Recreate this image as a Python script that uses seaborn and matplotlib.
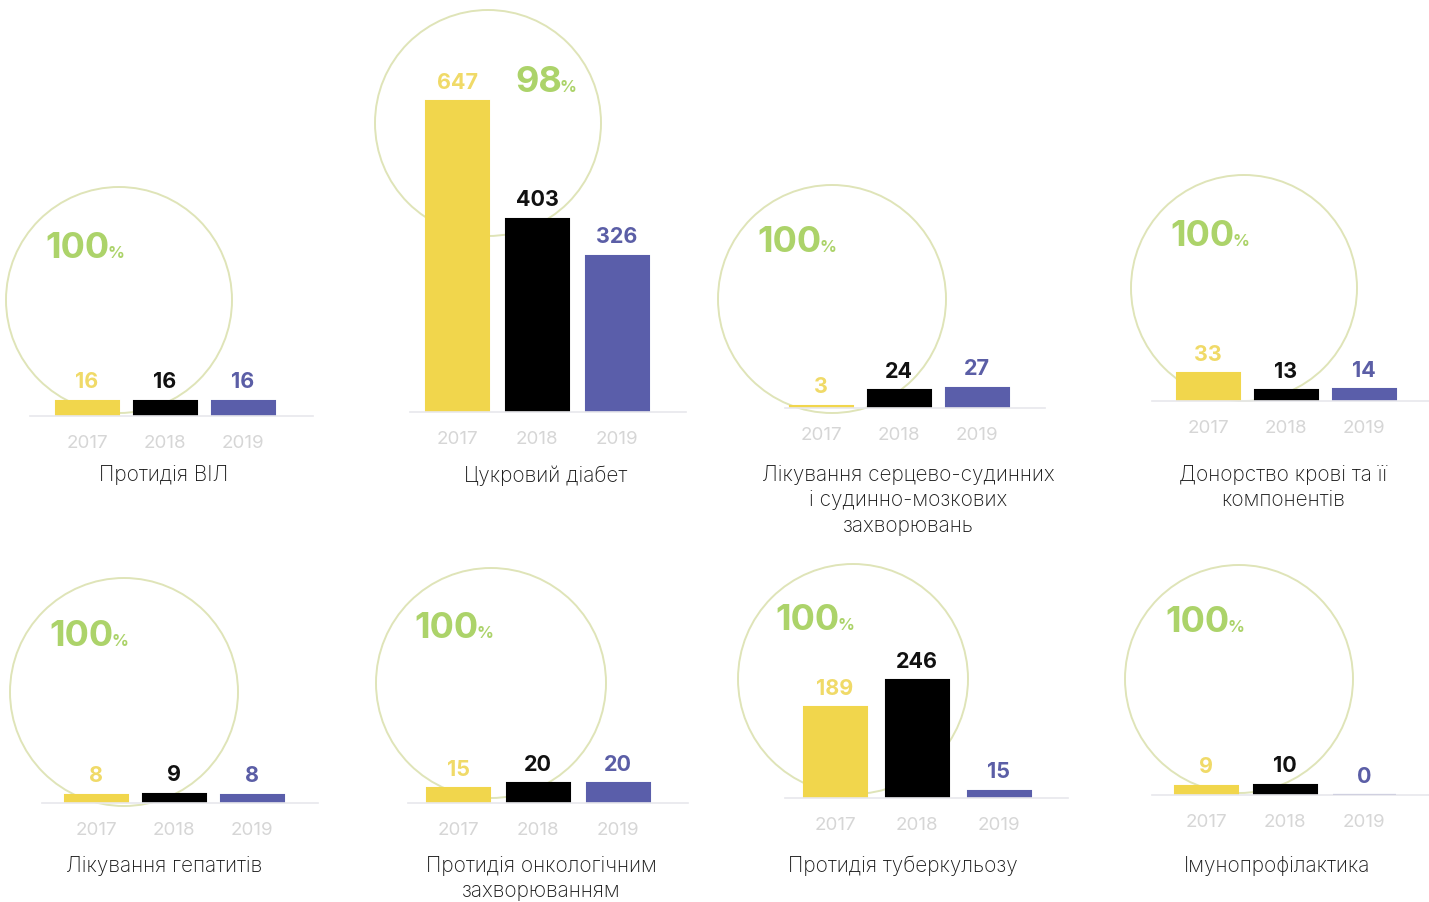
import matplotlib
matplotlib.use("Agg")
import matplotlib.pyplot as plt
from matplotlib.patches import Circle
import pandas as pd
import seaborn as sns

# ---- data -----------------------------------------------------------------
years = ["2017", "2018", "2019"]

titles = [
    "Протидія ВІЛ",
    "Цукровий діабет",
    "Лікування серцево-судинних\nі судинно-мозкових\nзахворювань",
    "Донорство крові та її\nкомпонентів",
    "Лікування гепатитів",
    "Протидія онкологічним\nзахворюванням",
    "Протидія туберкульозу",
    "Імунопрофілактика",
]

hiv = [16, 16, 16]
diabetes = [647, 403, 326]
cardio = [3, 24, 27]
blood = [33, 13, 14]
hepatitis = [8, 9, 8]
oncology = [15, 20, 20]
tuberculosis = [189, 246, 15]
immuno = [9, 10, 0]

shares = [100, 98, 100, 100, 100, 100, 100, 100]

series = [hiv, diabetes, cardio, blood, hepatitis, oncology, tuberculosis, immuno]

# ---- style ----------------------------------------------------------------
W, H = 1429, 902
DPI = 100
sns.set_theme(style="white")
plt.rcParams["font.family"] = ["Inter", "DejaVu Sans"]

YELLOW = "#f1d64c"
BLACK = "#000000"
BLUE = "#5a5eaa"
bar_colors = [YELLOW, BLACK, BLUE]
label_colors = ["#f0da68", "#111111", "#5b5ea6"]
RING = "#dfe4b8"
GREEN = "#acd36a"
YEAR_GREY = "#d6d6d6"
BASE_GREY = "#e8e8ec"
TITLE = "#1a1a1a"

# panel layout in pixels:
# first bar centre, bar spacing, baseline y, baseline left/right,
# pixels per unit, ring centre/radius, share label pos, title pos
layout = [
    dict(c0=87, sp=78, base=416, l=30, r=313, ppu=0.95, ring=(119, 300, 113), pct=(45, 248), title=(164, 465)),
    dict(c0=457, sp=80, base=412, l=410, r=686, ppu=0.48, ring=(488, 123, 113), pct=(515, 83), title=(546, 465)),
    dict(c0=821, sp=78, base=408, l=785, r=1045, ppu=0.75, ring=(832, 299, 114), pct=(757, 242), title=(908, 465)),
    dict(c0=1208, sp=78, base=401, l=1152, r=1429, ppu=0.85, ring=(1244, 288, 113), pct=(1170, 236), title=(1283, 465)),
    dict(c0=96, sp=78, base=803, l=42, r=318, ppu=1.05, ring=(124, 692, 114), pct=(49, 636), title=(164, 856)),
    dict(c0=458, sp=80, base=803, l=408, r=688, ppu=1.0, ring=(491, 683, 115), pct=(414, 628), title=(541, 856)),
    dict(c0=835, sp=82, base=798, l=785, r=1068, ppu=0.48, ring=(853, 679, 115), pct=(775, 621), title=(903, 856)),
    dict(c0=1206, sp=79, base=795, l=1152, r=1429, ppu=1.05, ring=(1239, 679, 114), pct=(1165, 623), title=(1277, 856)),
]

BAR_PX = 63
AX_PX = 330

fig = plt.figure(figsize=(W / DPI, H / DPI), dpi=DPI)
fig.patch.set_facecolor("white")

# background layer in pixel coordinates for rings and captions
bg = fig.add_axes([0, 0, 1, 1], zorder=0)
bg.set_xlim(0, W)
bg.set_ylim(H, 0)
bg.axis("off")

renderer = fig.canvas.get_renderer()

for vals, title, share, g in zip(series, titles, shares, layout):
    cx, cy, rad = g["ring"]
    bg.add_patch(Circle((cx, cy), rad, fill=False, edgecolor=RING, linewidth=1.4))

    # share label: large number with a small percent sign
    px, py = g["pct"]
    big = bg.text(px, py, f"{share}", fontsize=26, fontweight="bold", color=GREEN,
                  ha="left", va="center")
    bb = big.get_window_extent(renderer)
    x_end = bg.transData.inverted().transform((bb.x1, bb.y0))[0]
    bg.text(x_end - 2, py + 5, "%", fontsize=12, fontweight="bold", color=GREEN,
            ha="left", va="center")

    tx, ty = g["title"]
    bg.text(tx, ty, title, fontsize=15, fontweight="light", color=TITLE,
            ha="center", va="top", linespacing=1.33)

    # bar panel
    left, right, base = g["l"], g["r"], g["base"]
    ax = fig.add_axes([left / W, 1 - base / H, (right - left) / W, AX_PX / H], zorder=1)
    ax.patch.set_alpha(0)
    df = pd.DataFrame({"year": years, "value": vals})
    sns.barplot(data=df, x="year", y="value", hue="year", palette=bar_colors,
                legend=False, width=BAR_PX / g["sp"], ax=ax, saturation=1,
                edgecolor=None, linewidth=0)
    for patch, col in zip(ax.patches, bar_colors):
        patch.set_edgecolor(col)
        patch.set_linewidth(1.5)
    ax.set_xlim((left - g["c0"]) / g["sp"], (right - g["c0"]) / g["sp"])
    ax.set_ylim(0, AX_PX / g["ppu"])
    for cont, col in zip(ax.containers, label_colors):
        ax.bar_label(cont, labels=[f"{int(v)}" for v in cont.datavalues],
                     padding=6, fontsize=15.5, fontweight="bold", color=col)
    ax.set_xlabel("")
    ax.set_ylabel("")
    ax.set_yticks([])
    ax.tick_params(axis="x", length=0, pad=14, labelsize=13.5, labelcolor=YEAR_GREY)
    for s in ["left", "right", "top"]:
        ax.spines[s].set_visible(False)
    ax.spines["bottom"].set_color(BASE_GREY)
    ax.spines["bottom"].set_linewidth(1.2)

fig.savefig("out.png", dpi=DPI, facecolor="white")
